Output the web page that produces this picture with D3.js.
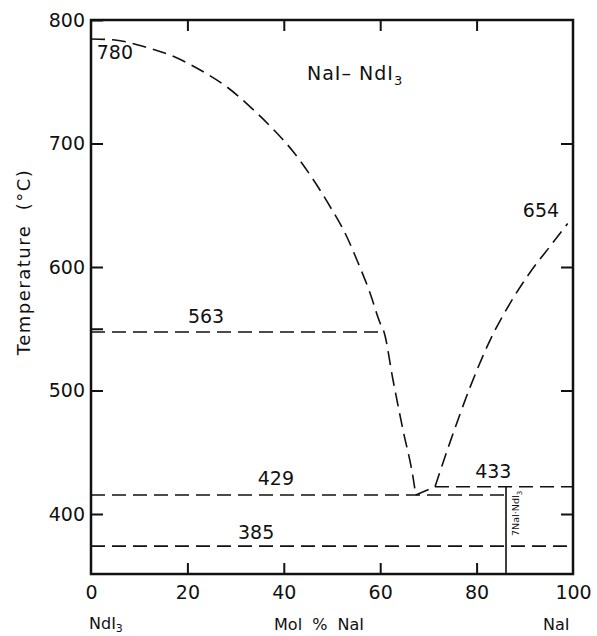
<!DOCTYPE html>
<html><head><meta charset="utf-8">
<script src="https://cdn.jsdelivr.net/npm/d3@7"></script>
<style>
body{margin:0;background:#fff;}
text{font-family:"DejaVu Sans",sans-serif;fill:#111;}
</style></head>
<body><svg id="c" width="597" height="636"></svg>
<script>
// ---- data ----
const xTicks = [0, 20, 40, 60, 80, 100];
const yTicks = [400, 500, 600, 700, 800];
const yMinor = [550];
// left liquidus (mol % NaI, °C)
const liqLeftX = [0, 4.98, 10.58, 17.63, 23.03, 28.22, 33.20, 37.66, 42.01, 45.95, 49.59, 52.90, 55.39, 57.78, 60.06, 60.79, 62.66, 64.73, 66.80, 67.37];
const liqLeftT = [784.6, 783.8, 778.9, 769.6, 758.7, 745.7, 729.1, 712.1, 693.1, 671.7, 649.0, 625.9, 603.6, 580.2, 553.8, 547.4, 508.5, 468.0, 430.0, 415.4];
// peritectic connector
const connX = [67.37, 71.37];
const connT = [415.4, 422.1];
// right liquidus
const liqRightX = [71.37, 74.48, 78.63, 82.78, 86.93, 91.08, 95.23, 98.90];
const liqRightT = [422.1, 458.0, 502.5, 540.6, 570.5, 595.6, 616.7, 635.3];
// horizontal invariant lines: [x start, x end, temperature]
const hLineX1 = [0, 0, 71.37, 0];
const hLineX2 = [60.79, 86.1, 100, 100];
const hLineT = [547.4, 415.4, 422.1, 374];
// compound 7NaI·NdI3
const compoundX = 86.1;
const compoundTopT = 422.1;
// temperature labels: text, x, T (baseline)
const labTxt = ["780", "563", "429", "385", "433", "654"];
const labX = [1.2, 20.1, 34.6, 30.5, 79.7, 89.6];
const labT = [768.4, 554.7, 423.5, 379.8, 429.1, 640.5];
const yMin = 351.4;

// ---- scales ----
const svg = d3.select("#c");
const x = d3.scaleLinear().domain([0, 100]).range([91, 573]);
const y = d3.scaleLinear().domain([400, 800]).range([514, 20]);
const yBot = y(yMin);

// frame
svg.append("rect").attr("x", x(0)).attr("y", y(800))
  .attr("width", x(100) - x(0)).attr("height", yBot - y(800))
  .attr("fill", "none").attr("stroke", "#111").attr("stroke-width", 2.5);

function styleAxis(g, fs) {
  g.select(".domain").remove();
  g.selectAll(".tick line").attr("stroke", "#111").attr("stroke-width", 2);
  g.selectAll(".tick text").attr("font-family", "DejaVu Sans, sans-serif")
    .attr("font-size", fs).attr("fill", "#111");
}
// left axis
const gl = svg.append("g").attr("transform", `translate(${x(0)},0)`)
  .call(d3.axisLeft(y).tickValues(yTicks).tickSize(-12).tickPadding(6).tickFormat(d3.format("d")));
styleAxis(gl, 19);
svg.append("g").attr("transform", `translate(${x(0)},0)`)
  .call(d3.axisLeft(y).tickValues(yMinor).tickSize(-12).tickFormat(""))
  .call(g => styleAxis(g, 19));
// right axis
svg.append("g").attr("transform", `translate(${x(100)},0)`)
  .call(d3.axisRight(y).tickValues(yTicks.slice(0, 4)).tickSize(-12).tickFormat(""))
  .call(g => styleAxis(g, 19));
// bottom axis
const gb = svg.append("g").attr("transform", `translate(0,${yBot})`)
  .call(d3.axisBottom(x).tickValues(xTicks).tickSize(-11).tickPadding(11).tickFormat(d3.format("d")));
styleAxis(gb, 19);
gb.selectAll(".tick line").filter(d => d === 0 || d === 100).remove();
// top axis
svg.append("g").attr("transform", `translate(0,${y(800)})`)
  .call(d3.axisTop(x).tickValues(xTicks.slice(1, 5)).tickSize(-11).tickFormat(""))
  .call(g => styleAxis(g, 19));

// axis titles
svg.append("text").attr("transform", `translate(30,262) rotate(-90)`)
  .attr("text-anchor", "middle").attr("font-size", 18).attr("letter-spacing", 1.5)
  .attr("xml:space", "preserve").text("Temperature  (°C)");
const bt = svg.append("text").attr("x", 89).attr("y", 629).attr("font-size", 16);
bt.append("tspan").text("NdI");
bt.append("tspan").attr("font-size", 11).attr("dy", 3).text("3");
svg.append("text").attr("x", 319).attr("y", 630).attr("text-anchor", "middle")
  .attr("font-size", 16).attr("word-spacing", 5).text("Mol % NaI");
svg.append("text").attr("x", 543).attr("y", 630).attr("font-size", 16).text("NaI");

// title
const tt = svg.append("text").attr("x", 307).attr("y", 80).attr("font-size", 19)
  .attr("letter-spacing", 1);
tt.append("tspan").attr("xml:space", "preserve").text("NaI– NdI");
tt.append("tspan").attr("font-size", 13).attr("dy", 5).text("3");

// curves
const dash = "14,7";
const line = d3.line().x(d => x(d[0])).y(d => y(d[1])).curve(d3.curveMonotoneX);
const straight = d3.line().x(d => x(d[0])).y(d => y(d[1]));
function draw(xs, ts, gen) {
  svg.append("path").datum(xs.map((v, i) => [v, ts[i]])).attr("d", gen)
    .attr("fill", "none").attr("stroke", "#111").attr("stroke-width", 1.6)
    .attr("stroke-dasharray", dash);
}
draw(liqLeftX, liqLeftT, line);
draw(connX, connT, straight);
draw(liqRightX, liqRightT, line);
hLineT.forEach((t, i) => draw([hLineX1[i], hLineX2[i]], [t, t], straight));

// compound vertical line
svg.append("line").attr("x1", x(compoundX)).attr("x2", x(compoundX))
  .attr("y1", y(compoundTopT)).attr("y2", yBot)
  .attr("stroke", "#111").attr("stroke-width", 1.6);
const ct = svg.append("text")
  .attr("transform", `translate(${x(compoundX) + 13},536) rotate(-90)`)
  .attr("font-size", 9.5);
ct.append("tspan").text("7NaI·NdI");
ct.append("tspan").attr("font-size", 7).attr("dy", 3).text("3");

// temperature labels
labTxt.forEach((t, i) => {
  svg.append("text").attr("x", x(labX[i])).attr("y", y(labT[i]))
    .attr("font-size", 19).text(t);
});
</script></body></html>
